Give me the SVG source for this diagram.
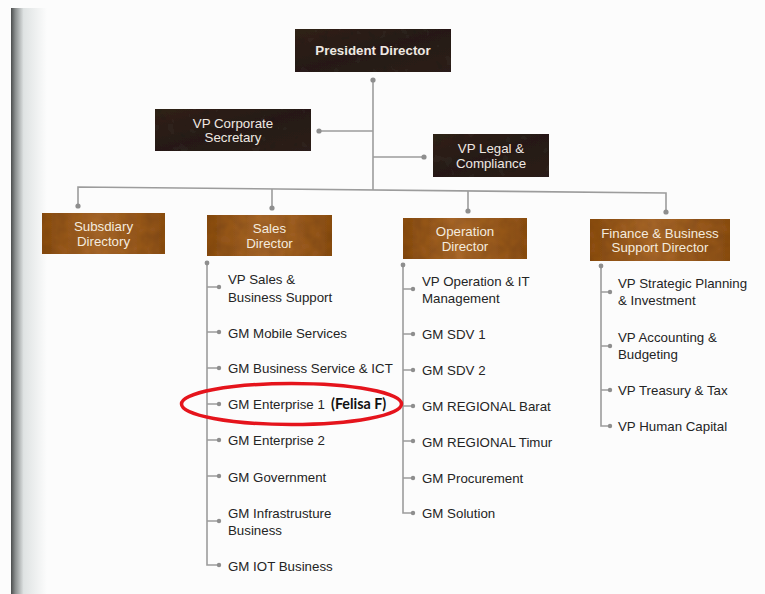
<svg xmlns="http://www.w3.org/2000/svg" width="765" height="594" viewBox="0 0 765 594">
<defs>
<style>
.dark{fill:url(#gDark)}
.brown{fill:url(#gBrown)}
.tw{font-family:"Liberation Sans",Arial,sans-serif;font-size:13.3px;fill:#efe8e2;text-anchor:middle}
.tb{font-family:"Liberation Sans",Arial,sans-serif;font-size:13.3px;fill:#f4ebdf;text-anchor:middle}
.tl{font-family:"Liberation Sans",Arial,sans-serif;font-size:13.3px;fill:#242424}
.ln{stroke:#9c9c9c;stroke-width:1.6;fill:none}
.dot{fill:#8e8e8e}
</style>
<linearGradient id="gDark" x1="0" y1="0" x2="1" y2="1">
<stop offset="0" stop-color="#33261f"/>
<stop offset="0.5" stop-color="#2a1f1b"/>
<stop offset="1" stop-color="#2f2420"/>
</linearGradient>
<linearGradient id="gBrown" x1="0" y1="0" x2="1" y2="0">
<stop offset="0" stop-color="#8a4d16"/>
<stop offset="0.45" stop-color="#a8672a"/>
<stop offset="1" stop-color="#8c4f18"/>
</linearGradient>
<linearGradient id="gStrip" x1="0" y1="0" x2="1" y2="0">
<stop offset="0" stop-color="#4a4c4c"/>
<stop offset="0.12" stop-color="#8a8e8e"/>
<stop offset="0.35" stop-color="#dfe3e3"/>
<stop offset="1" stop-color="#fcfcfc"/>
</linearGradient>
<filter id="tex" x="0" y="0" width="100%" height="100%">
<feTurbulence type="fractalNoise" baseFrequency="0.09" numOctaves="2" seed="4" result="n"/>
<feColorMatrix in="n" type="matrix" values="0 0 0 0 0  0 0 0 0 0  0 0 0 0 0  0 0 0 0.35 -0.1" result="a"/>
<feComposite in="a" in2="SourceGraphic" operator="in" result="m"/>
<feMerge><feMergeNode in="SourceGraphic"/><feMergeNode in="m"/></feMerge>
</filter>
</defs>
<rect x="0" y="0" width="765" height="594" fill="#fcfcfc"/>
<rect x="11" y="8" width="36" height="586" fill="url(#gStrip)"/>

<g id="connectors">
<path class="ln" d="M373 80 V190"/>
<path class="ln" d="M319 131 H373"/>
<path class="ln" d="M373 157 H424"/>
<path class="ln" d="M78 206 V187 L666 193 V212"/>
<path class="ln" d="M272 189 V208"/>
<path class="ln" d="M468 191 V211"/>
<circle class="dot" cx="373" cy="80" r="2.6"/>
<circle class="dot" cx="319" cy="131" r="2.6"/>
<circle class="dot" cx="424" cy="157" r="2.6"/>
<circle class="dot" cx="78" cy="206" r="2.6"/>
<circle class="dot" cx="272" cy="208" r="2.6"/>
<circle class="dot" cx="468" cy="211" r="2.6"/>
<circle class="dot" cx="666" cy="212" r="2.6"/>
<path class="ln" d="M207 263 V565 H218"/>
<circle class="dot" cx="207" cy="263" r="2.4"/>
<path class="ln" d="M207 287 H218 M207 332 H218 M207 368 H218 M207 404 H218 M207 440 H218 M207 476 H218 M207 521 H218"/>
<circle class="dot" cx="219" cy="287" r="2.2"/>
<circle class="dot" cx="219" cy="332" r="2.2"/>
<circle class="dot" cx="219" cy="368" r="2.2"/>
<circle class="dot" cx="219" cy="404" r="2.2"/>
<circle class="dot" cx="219" cy="440" r="2.2"/>
<circle class="dot" cx="219" cy="476" r="2.2"/>
<circle class="dot" cx="219" cy="521" r="2.2"/>
<circle class="dot" cx="219" cy="565" r="2.2"/>
<path class="ln" d="M403 265 V513 H412"/>
<circle class="dot" cx="403" cy="265" r="2.4"/>
<path class="ln" d="M403 289 H412 M403 334 H412 M403 370 H412 M403 406 H412 M403 441 H412 M403 478 H412"/>
<circle class="dot" cx="413" cy="289" r="2.2"/>
<circle class="dot" cx="413" cy="334" r="2.2"/>
<circle class="dot" cx="413" cy="370" r="2.2"/>
<circle class="dot" cx="413" cy="406" r="2.2"/>
<circle class="dot" cx="413" cy="441" r="2.2"/>
<circle class="dot" cx="413" cy="478" r="2.2"/>
<circle class="dot" cx="413" cy="513" r="2.2"/>
<path class="ln" d="M601 266 V426 H609"/>
<circle class="dot" cx="601" cy="266" r="2.4"/>
<path class="ln" d="M601 292 H609 M601 346 H609 M601 390 H609"/>
<circle class="dot" cx="610" cy="292" r="2.2"/>
<circle class="dot" cx="610" cy="346" r="2.2"/>
<circle class="dot" cx="610" cy="390" r="2.2"/>
<circle class="dot" cx="610" cy="426" r="2.2"/>
</g>

<g id="president">
<rect class="dark" filter="url(#tex)" x="295" y="29" width="156" height="43"/>
<text class="tw" x="373" y="55" font-weight="bold">President Director</text>
</g>
<g id="corporate-secretary">
<rect class="dark" filter="url(#tex)" x="155" y="109" width="156" height="42"/>
<text class="tw" x="233" y="127.5">VP Corporate</text>
<text class="tw" x="233" y="142">Secretary</text>
</g>
<g id="legal">
<rect class="dark" filter="url(#tex)" x="433" y="134" width="116" height="43"/>
<text class="tw" x="491" y="152.5">VP Legal &amp;</text>
<text class="tw" x="491" y="167.5">Compliance</text>
</g>
<g id="subsidiary">
<rect class="brown" filter="url(#tex)" x="42" y="213" width="123" height="41"/>
<text class="tb" x="103.5" y="231">Subsdiary</text>
<text class="tb" x="103.5" y="246">Directory</text>
</g>
<g id="sales">
<rect class="brown" filter="url(#tex)" x="207" y="215" width="125" height="41"/>
<text class="tb" x="269.5" y="233">Sales</text>
<text class="tb" x="269.5" y="248">Director</text>
</g>
<g id="operation">
<rect class="brown" filter="url(#tex)" x="403" y="218" width="124" height="41"/>
<text class="tb" x="465" y="235.5">Operation</text>
<text class="tb" x="465" y="250.5">Director</text>
</g>
<g id="finance">
<rect class="brown" filter="url(#tex)" x="590" y="219" width="140" height="42"/>
<text class="tb" x="660" y="237.5">Finance &amp; Business</text>
<text class="tb" x="660" y="252">Support Director</text>
</g>

<g id="sales-units">
<text class="tl" x="228" y="284">VP Sales &amp;</text>
<text class="tl" x="228" y="302">Business Support</text>
<text class="tl" x="228" y="338">GM Mobile Services</text>
<text class="tl" x="228" y="373">GM Business Service &amp; ICT</text>
<text class="tl" x="228" y="409">GM Enterprise 1</text>
<text class="tl" x="228" y="445">GM Enterprise 2</text>
<text class="tl" x="228" y="482">GM Government</text>
<text class="tl" x="228" y="518">GM Infrastrusture</text>
<text class="tl" x="228" y="535">Business</text>
<text class="tl" x="228" y="571">GM IOT Business</text>
</g>
<g id="operation-units">
<text class="tl" x="422" y="286">VP Operation &amp; IT</text>
<text class="tl" x="422" y="303">Management</text>
<text class="tl" x="422" y="339">GM SDV 1</text>
<text class="tl" x="422" y="375">GM SDV 2</text>
<text class="tl" x="422" y="411">GM REGIONAL Barat</text>
<text class="tl" x="422" y="447">GM REGIONAL Timur</text>
<text class="tl" x="422" y="483">GM Procurement</text>
<text class="tl" x="422" y="518">GM Solution</text>
</g>
<g id="finance-units">
<text class="tl" x="618" y="288">VP Strategic Planning</text>
<text class="tl" x="618" y="305">&amp; Investment</text>
<text class="tl" x="618" y="342">VP Accounting &amp;</text>
<text class="tl" x="618" y="359">Budgeting</text>
<text class="tl" x="618" y="395">VP Treasury &amp; Tax</text>
<text class="tl" x="618" y="431">VP Human Capital</text>
</g>

<g id="annotation">
<text x="331" y="409" font-family="Lato,'Open Sans',sans-serif" font-weight="bold" font-size="14.3px" fill="#111">(Felisa F)</text>
<ellipse cx="291.5" cy="404" rx="110" ry="20.5" fill="none" stroke="#e5141c" stroke-width="3.5"/>
</g>
</svg>
